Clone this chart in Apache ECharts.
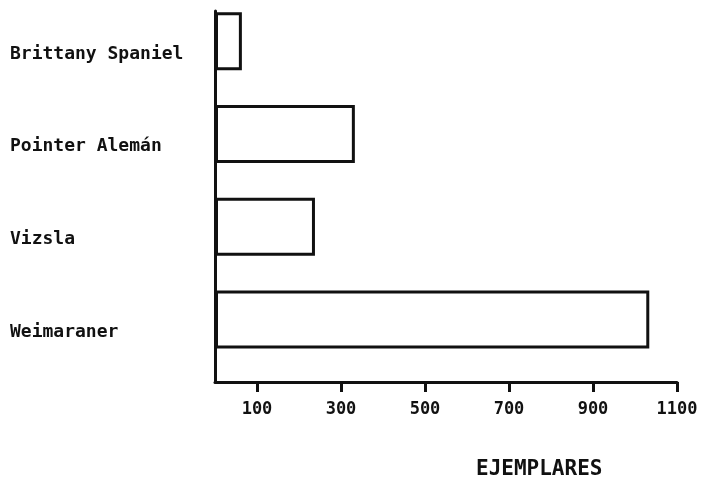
<!DOCTYPE html>
<html>
<head>
<meta charset="utf-8">
<script src="https://cdn.jsdelivr.net/npm/echarts@6/dist/echarts.min.js"></script>
<style>
  html, body { margin: 0; padding: 0; background: #fff; }
  #chart { width: 701px; height: 478px; }
</style>
</head>
<body>
<div id="chart"></div>
<script>
// Data
const categories = ['Brittany Spaniel', 'Pointer Alemán', 'Vizsla', 'Weimaraner'];
const ejemplares = [64, 333, 238, 1034];
const tickValues = [100, 300, 500, 700, 900, 1100];
const axisTitle = 'EJEMPLARES';

const FONT = '"DejaVu Sans Mono", "Liberation Mono", monospace';
const INK = '#111';

const chart = echarts.init(document.getElementById('chart'), null, { renderer: 'canvas' });
chart.setOption({
  backgroundColor: '#ffffff',
  animation: false,
  title: {
    text: axisTitle,
    left: 471,
    top: 454,
    textStyle: { fontFamily: FONT, fontSize: 21, fontWeight: 'bold', color: INK }
  },
  grid: { left: 215, right: 24, top: 11, bottom: 96, containLabel: false, outerBoundsMode: 'none' },
  xAxis: {
    type: 'value',
    min: 0,
    max: 1100,
    splitLine: { show: false },
    axisLine: { show: true, lineStyle: { color: INK, width: 3 } },
    axisTick: { show: true, length: 10, customValues: tickValues, lineStyle: { color: INK, width: 3 } },
    axisLabel: {
      customValues: tickValues,
      formatter: (v) => String(v),
      margin: 19,
      fontFamily: FONT, fontSize: 17, fontWeight: 'bold', color: INK
    }
  },
  yAxis: {
    type: 'category',
    inverse: true,
    data: categories,
    axisLine: { show: true, lineStyle: { color: INK, width: 3 } },
    axisTick: { show: false },
    splitLine: { show: false },
    axisLabel: {
      align: 'left',
      margin: 205,
      formatter: (v) => '{c|' + v + '}',
      rich: {
        c: {
          padding: [0, 0, 7, 0],
          fontFamily: FONT, fontSize: 18, fontWeight: 'bold', color: INK
        }
      },
      fontFamily: FONT, fontSize: 18, fontWeight: 'bold', color: INK
    }
  },
  series: [
    {
      type: 'bar',
      data: ejemplares,
      barWidth: 58,
      barGap: '-44%',
      itemStyle: { color: '#ffffff', borderColor: INK, borderWidth: 3 },
      z: 3
    },
    {
      type: 'bar',
      data: categories.map(() => null),
      barWidth: 58,
      barGap: '-44%',
      silent: true,
      itemStyle: { color: 'transparent' }
    }
  ]
});
</script>
</body>
</html>
